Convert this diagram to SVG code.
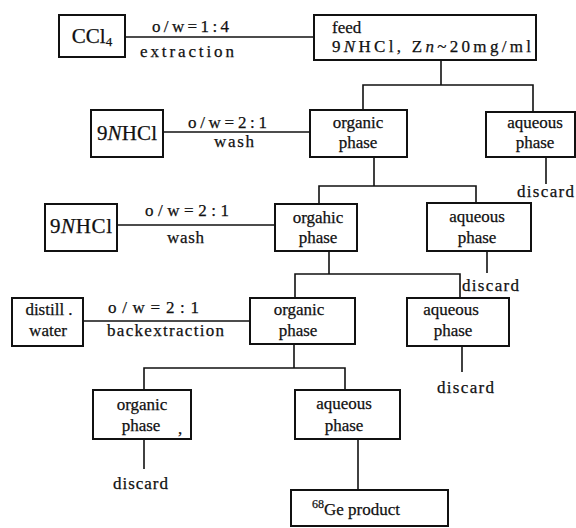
<svg xmlns="http://www.w3.org/2000/svg" width="576" height="528" viewBox="0 0 576 528">
<style>
text{font-family:"Liberation Serif","DejaVu Serif",serif;fill:#111;font-size:17px;stroke:#111;stroke-width:0.25}
.box{fill:#fff;stroke:#111;stroke-width:2}
.ln{stroke:#111;stroke-width:1.6;fill:none}
.m{text-anchor:middle}
.big{font-size:21px}
</style>
<rect width="576" height="528" fill="#fff"/>
<g id="connectors">
<path class="ln" d="M125,37H314"/>
<path class="ln" d="M441,60V85M363,110V85H533V112"/>
<path class="ln" d="M163,132H310"/>
<path class="ln" d="M546,157V184"/>
<path class="ln" d="M374,157V186M319,204V186H476V203"/>
<path class="ln" d="M117,225H275"/>
<path class="ln" d="M487,251V273"/>
<path class="ln" d="M329,251V274M295,298V274H460V298"/>
<path class="ln" d="M83,321H250"/>
<path class="ln" d="M462,346V372"/>
<path class="ln" d="M294,344V368M144,390V368H345V390"/>
<path class="ln" d="M144,439V469"/>
<path class="ln" d="M358,439V490"/>
<text x="152" y="32" textLength="77">o/w=1:4</text>
<text x="140" y="57" textLength="94">extraction</text>
<text x="188" y="128" textLength="79">o/w=2:1</text>
<text x="214" y="147" textLength="40">wash</text>
<text x="145" y="216" textLength="84">o/w=2:1</text>
<text x="167" y="243" textLength="37">wash</text>
<text x="108" y="313" textLength="91">o/w=2:1</text>
<text x="107" y="336" textLength="117">backextraction</text>
<text x="517" y="197" textLength="57">discard</text>
<text x="462" y="291" textLength="57">discard</text>
<text x="437" y="393" textLength="57">discard</text>
<text x="113" y="489" textLength="55">discard</text>
</g>
<g id="ccl4"><rect class="box" x="59" y="15" width="66" height="42"/><text class="m big" x="92" y="43">CCl<tspan font-size="13" dy="3">4</tspan></text></g>
<g id="feed"><rect class="box" x="314" y="15" width="222" height="45"/><text x="332" y="33">feed</text><text x="332" y="52" textLength="199">9<tspan font-style="italic">N</tspan>HCl, Z<tspan font-style="italic">n</tspan>~20mg/ml</text></g>
<g id="hcl1"><rect class="box" x="91" y="110" width="72" height="47"/><text class="m big" x="127" y="140" textLength="60">9<tspan font-style="italic">N</tspan>HCl</text></g>
<g id="org1"><rect class="box" x="310" y="110" width="97" height="47"/><text class="m" x="358" y="128">organic</text><text class="m" x="358" y="148">phase</text></g>
<g id="aq1"><rect class="box" x="486" y="112" width="89" height="45"/><text class="m" x="535" y="128">aqueous</text><text class="m" x="535" y="148">phase</text></g>
<g id="hcl2"><rect class="box" x="45" y="204" width="72" height="47"/><text class="m big" x="81" y="233" textLength="62">9<tspan font-style="italic">N</tspan>HCl</text></g>
<g id="org2"><rect class="box" x="275" y="204" width="82" height="47"/><text class="m" x="318" y="223">orgahic</text><text class="m" x="318" y="243">phase</text></g>
<g id="aq2"><rect class="box" x="427" y="203" width="104" height="48"/><text class="m" x="477" y="222">aqueous</text><text class="m" x="477" y="243">phase</text></g>
<g id="water"><rect class="box" x="12" y="298" width="71" height="48"/><text class="m" x="49" y="315">distill .</text><text class="m" x="48" y="336">water</text></g>
<g id="org3"><rect class="box" x="250" y="298" width="105" height="46"/><text class="m" x="299" y="315">organic</text><text class="m" x="298" y="336">phase</text></g>
<g id="aq3"><rect class="box" x="407" y="298" width="102" height="48"/><text class="m" x="451" y="315">aqueous</text><text class="m" x="453" y="336">phase</text></g>
<g id="org4"><rect class="box" x="93" y="390" width="98" height="49"/><text class="m" x="142" y="410">organic</text><text class="m" x="141" y="431">phase</text><text x="178" y="434" font-size="13">,</text></g>
<g id="aq4"><rect class="box" x="295" y="390" width="105" height="49"/><text class="m" x="344" y="409">aqueous</text><text class="m" x="344" y="431">phase</text></g>
<g id="product"><rect class="box" x="291" y="490" width="157" height="36"/><text x="312" y="515" font-size="19"><tspan font-size="12" dy="-7">68</tspan><tspan dy="7">Ge product</tspan></text></g>
</svg>
